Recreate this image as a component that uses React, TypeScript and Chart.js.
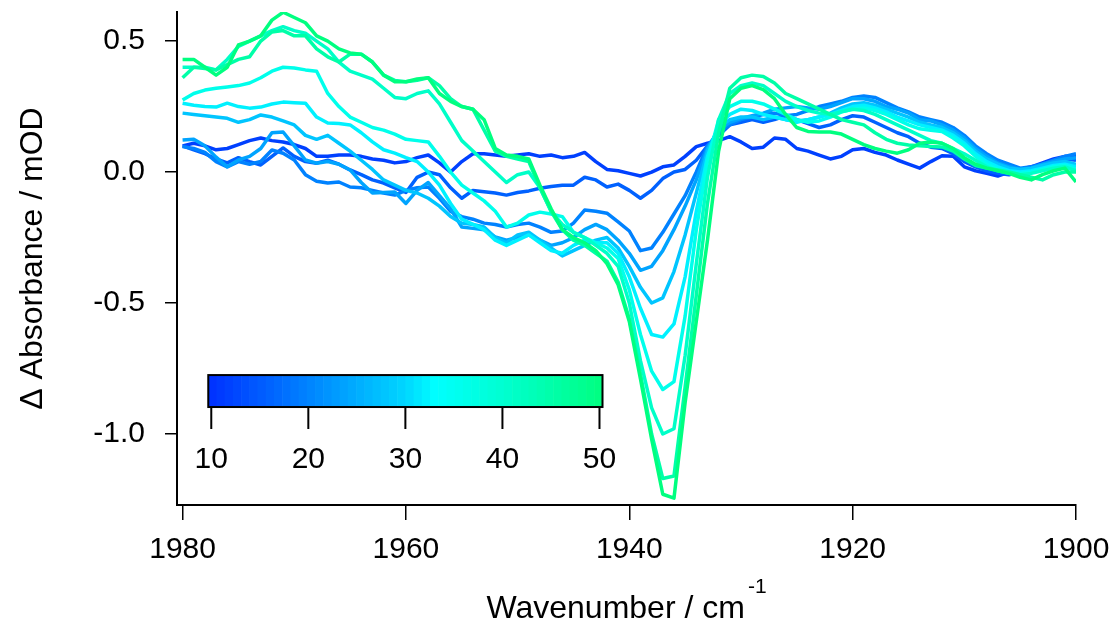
import { useEffect, useRef } from 'react';
import { Chart, registerables } from 'chart.js';

Chart.register(...registerables);

// ---------- data ----------
const wavenumbers = [
  1980, 1979, 1978, 1977, 1976, 1975, 1974, 1973, 1972, 1971,
  1970, 1969, 1968, 1967, 1966, 1965, 1964, 1963, 1962, 1961,
  1960, 1959, 1958, 1957, 1956, 1955, 1954, 1953, 1952, 1951,
  1950, 1949, 1948, 1947, 1946, 1945, 1944, 1943, 1942, 1941,
  1940, 1939, 1938, 1937, 1936, 1935, 1934, 1933, 1932, 1931,
  1930, 1929, 1928, 1927, 1926, 1925, 1924, 1923, 1922, 1921,
  1920, 1919, 1918, 1917, 1916, 1915, 1914, 1913, 1912, 1911,
  1910, 1909, 1908, 1907, 1906, 1905, 1904, 1903, 1902, 1901,
  1900,
];

// delay time of each spectrum (colour-bar units)
const delayTimes = [12, 16, 20, 24, 28, 32, 36, 41, 45, 50];

const s1 = [
  0.10, 0.11, 0.10, 0.085, 0.09, 0.105, 0.12, 0.13, 0.12, 0.115,
  0.105, 0.09, 0.06, 0.06, 0.065, 0.065, 0.06, 0.05, 0.045, 0.035,
  0.04, 0.055, 0.065, 0.035, 0.0, 0.04, 0.07, 0.07, 0.065, 0.06,
  0.065, 0.07, 0.06, 0.065, 0.055, 0.06, 0.075, 0.04, 0.01, 0.005,
  -0.005, -0.015, 0.0, 0.02, 0.027, 0.06, 0.097, 0.11, 0.12, 0.135,
  0.115, 0.09, 0.095, 0.13, 0.125, 0.09, 0.08, 0.065, 0.05, 0.06,
  0.085, 0.09, 0.075, 0.065, 0.046, 0.03, 0.015, 0.04, 0.062, 0.06,
  0.02, 0.005, -0.005, -0.015, 0.0, 0.01, 0.02, 0.035, 0.05, 0.06,
  0.06,
];
const s2 = [
  0.10, 0.085, 0.07, 0.05, 0.035, 0.055, 0.04, 0.027, 0.06, 0.092,
  0.06, 0.04, 0.034, 0.045, 0.03, 0.008, -0.01, -0.03, -0.042, -0.06,
  -0.078, -0.02, 0.0, -0.01, -0.06, -0.1, -0.07, -0.075, -0.08, -0.088,
  -0.078, -0.072, -0.062, -0.055, -0.05, -0.05, -0.02, -0.03, -0.057, -0.046,
  -0.07, -0.1, -0.07, -0.025, 0.0, 0.01, 0.045, 0.1, 0.14, 0.18,
  0.19, 0.2, 0.19, 0.2, 0.215, 0.2, 0.185, 0.17, 0.18, 0.2,
  0.215, 0.21, 0.19, 0.17, 0.15, 0.135, 0.11, 0.095, 0.09, 0.07,
  0.04, 0.02, 0.005, -0.005, -0.01, 0.0, 0.01, 0.025, 0.04, 0.05,
  0.045,
];
const s3 = [
  0.097, 0.09, 0.075, 0.04, 0.02, 0.04, 0.03, 0.04, 0.084, 0.072,
  0.046, -0.01, -0.035, -0.042, -0.038, -0.057, -0.06, -0.07, -0.08, -0.088,
  -0.07, -0.06, -0.057, -0.1, -0.15, -0.17, -0.18, -0.195, -0.2, -0.21,
  -0.2, -0.195, -0.21, -0.23, -0.225, -0.195, -0.145, -0.15, -0.157, -0.19,
  -0.225, -0.3, -0.29, -0.23, -0.16, -0.09, 0.0, 0.1, 0.15, 0.18,
  0.2, 0.21, 0.22, 0.225, 0.215, 0.22, 0.235, 0.25, 0.26, 0.27,
  0.285, 0.29, 0.285, 0.265, 0.245, 0.23, 0.21, 0.2, 0.19, 0.17,
  0.14, 0.1, 0.07, 0.045, 0.03, 0.015, 0.02, 0.03, 0.045, 0.06,
  0.07,
];
const s4 = [
  0.122, 0.125, 0.1, 0.057, 0.02, 0.046, 0.06, 0.09, 0.15, 0.153,
  0.1, 0.046, 0.034, 0.04, 0.03, 0.008, -0.04, -0.08, -0.078, -0.076,
  -0.12, -0.07, -0.04, -0.09, -0.14, -0.21, -0.215, -0.22, -0.248, -0.26,
  -0.25, -0.24, -0.26, -0.28, -0.27, -0.25, -0.22, -0.2, -0.22, -0.26,
  -0.31, -0.375, -0.36, -0.3, -0.22, -0.13, -0.03, 0.09, 0.16, 0.19,
  0.205, 0.215, 0.225, 0.24, 0.245, 0.25, 0.245, 0.24, 0.25, 0.265,
  0.28, 0.28, 0.27, 0.25, 0.24, 0.225, 0.2, 0.195, 0.18, 0.16,
  0.13, 0.09, 0.06, 0.035, 0.02, 0.01, 0.015, 0.03, 0.04, 0.05,
  0.055,
];
const s5 = [
  0.225, 0.22, 0.215, 0.21, 0.205, 0.19, 0.2, 0.218, 0.21, 0.195,
  0.18, 0.14, 0.125, 0.14, 0.11, 0.08, 0.045, 0.01, -0.03, -0.05,
  -0.07, -0.08, -0.1, -0.13, -0.17, -0.195, -0.2, -0.21, -0.25, -0.27,
  -0.24, -0.23, -0.26, -0.29, -0.32, -0.3, -0.28, -0.26, -0.25, -0.29,
  -0.36, -0.44, -0.5, -0.48, -0.38, -0.24, -0.08, 0.08, 0.17, 0.2,
  0.21, 0.21, 0.2, 0.21, 0.2, 0.195, 0.2, 0.21, 0.225, 0.245,
  0.26, 0.265, 0.255, 0.24, 0.225, 0.21, 0.19, 0.18, 0.17, 0.15,
  0.12, 0.08, 0.05, 0.03, 0.015, 0.01, 0.015, 0.025, 0.035, 0.04,
  0.03,
];
const s6 = [
  0.263, 0.255, 0.25, 0.248, 0.263, 0.25, 0.244, 0.248, 0.26, 0.267,
  0.265, 0.263, 0.21, 0.187, 0.185, 0.18, 0.15, 0.115, 0.085, 0.072,
  0.055, 0.04, 0.0, -0.05, -0.12, -0.18, -0.2, -0.22, -0.26, -0.28,
  -0.26, -0.24, -0.27, -0.3, -0.31, -0.28, -0.26, -0.27, -0.27, -0.31,
  -0.4, -0.52, -0.62, -0.63, -0.58, -0.4, -0.15, 0.06, 0.18, 0.22,
  0.24, 0.235, 0.22, 0.21, 0.2, 0.19, 0.2, 0.21, 0.22, 0.235,
  0.25, 0.255, 0.245, 0.23, 0.21, 0.195, 0.18, 0.17, 0.16, 0.14,
  0.11, 0.07, 0.04, 0.02, 0.005, 0.0, 0.005, 0.015, 0.025, 0.03,
  0.02,
];
const s7 = [
  0.275, 0.3, 0.313, 0.32, 0.325, 0.33, 0.34, 0.36, 0.385, 0.4,
  0.397, 0.39, 0.385, 0.3, 0.25, 0.21, 0.19, 0.17, 0.16, 0.145,
  0.125, 0.12, 0.115, 0.06, 0.0, -0.05, -0.08, -0.11, -0.15, -0.21,
  -0.195, -0.164, -0.153, -0.16, -0.17, -0.23, -0.25, -0.27, -0.29, -0.33,
  -0.45, -0.62, -0.76, -0.83, -0.8, -0.55, -0.22, 0.04, 0.2, 0.25,
  0.27, 0.27, 0.26, 0.24, 0.22, 0.2, 0.19, 0.195, 0.21, 0.23,
  0.24, 0.245, 0.235, 0.22, 0.2, 0.18, 0.165, 0.16, 0.155, 0.13,
  0.1, 0.06, 0.03, 0.01, 0.0, -0.005, 0.0, 0.01, 0.02, 0.025,
  0.01,
];
const s8 = [
  0.40, 0.40, 0.40, 0.39, 0.43, 0.48, 0.5, 0.52, 0.54, 0.555,
  0.54, 0.53, 0.5, 0.47, 0.42, 0.385, 0.37, 0.355, 0.32, 0.285,
  0.28, 0.3, 0.31, 0.26, 0.19, 0.12, 0.08, 0.04, 0.0, -0.04,
  -0.01, 0.0, -0.06, -0.15, -0.2, -0.23, -0.25, -0.28, -0.31, -0.36,
  -0.5, -0.72, -0.9, -1.0, -0.98, -0.7, -0.35, -0.02, 0.2, 0.3,
  0.33, 0.34, 0.33, 0.3, 0.27, 0.25, 0.235, 0.225, 0.22, 0.23,
  0.24, 0.235, 0.22, 0.2, 0.18, 0.16, 0.14, 0.12, 0.11, 0.09,
  0.07, 0.045, 0.02, 0.005, -0.005, -0.01, -0.005, 0.005, 0.015, 0.02,
  0.005,
];
const s9 = [
  0.36, 0.4, 0.395, 0.39, 0.41, 0.43, 0.44, 0.5, 0.535, 0.54,
  0.52, 0.52, 0.47, 0.44, 0.42, 0.45, 0.45, 0.42, 0.37, 0.35,
  0.345, 0.35, 0.36, 0.33, 0.28, 0.25, 0.24, 0.16, 0.08, 0.06,
  0.05, 0.04, -0.06, -0.15, -0.22, -0.26, -0.28, -0.31, -0.34, -0.42,
  -0.56, -0.77, -1.0, -1.17, -1.16, -0.82, -0.47, -0.12, 0.15, 0.32,
  0.36, 0.37, 0.365, 0.34, 0.3, 0.28, 0.26, 0.24, 0.22, 0.2,
  0.19, 0.18, 0.15, 0.125, 0.11, 0.103, 0.1, 0.098, 0.096, 0.08,
  0.05, 0.025, 0.015, 0.008, 0.0, -0.01, -0.02, -0.03, -0.01, 0.0,
  0.0,
];
const s10 = [
  0.43, 0.43, 0.4, 0.37, 0.4, 0.485, 0.5, 0.52, 0.58, 0.61,
  0.59, 0.57, 0.52, 0.5, 0.47, 0.455, 0.45, 0.42, 0.37, 0.345,
  0.345, 0.355, 0.36, 0.3, 0.27, 0.25, 0.24, 0.2, 0.09, 0.065,
  0.06, 0.05, -0.05, -0.14, -0.22, -0.25, -0.27, -0.3, -0.35, -0.43,
  -0.57, -0.79, -1.02, -1.23, -1.245, -0.88, -0.57, -0.26, 0.08, 0.28,
  0.32, 0.33, 0.315, 0.28, 0.22, 0.17, 0.155, 0.153, 0.153, 0.145,
  0.125, 0.105, 0.09, 0.08, 0.072, 0.085, 0.11, 0.115, 0.11, 0.09,
  0.055, 0.03, 0.015, 0.005, -0.005, -0.02, -0.03, -0.01, 0.005, 0.015,
  -0.038,
];
const spectra = [s1, s2, s3, s4, s5, s6, s7, s8, s9, s10];

const xTickValues = [1980, 1960, 1940, 1920, 1900];
const xTickLabels = ['1980', '1960', '1940', '1920', '1900'];
const yTickValues = [0.5, 0, -0.5, -1.0];
const yTickLabels = ['0.5', '0.0', '-0.5', '-1.0'];
const colorbarTicks = [10, 20, 30, 40, 50];
const colorbarLabels = ['10', '20', '30', '40', '50'];

const xTitle = 'Wavenumber / cm';
const xTitleSup = '-1';
const yTitle = '\u0394 Absorbance / mOD';

// ---------- style ----------
const FONT = "'Liberation Sans', Arial, sans-serif";
const TICK_SIZE = 30;
const TITLE_SIZE = 32;
const LINE_WIDTH = 3.5;
const cmapStops: [number, number[]][] = [
  [10, [0, 48, 255]],
  [20, [0, 130, 255]],
  [30, [0, 214, 255]],
  [33, [0, 255, 255]],
  [40, [0, 255, 208]],
  [50, [0, 255, 128]],
];
const CB_MIN = 10;
const CB_MAX = 50;
// colour bar box, in data coordinates (wavenumber, absorbance)
const cbBox = { wnLeft: 1977.7, wnRight: 1942.4, yTop: -0.775, yBottom: -0.897 };

function colorAt(t: number): string {
  if (t <= cmapStops[0][0]) return `rgb(${cmapStops[0][1].join(',')})`;
  for (let i = 1; i < cmapStops.length; i++) {
    const [t1, c1] = cmapStops[i];
    const [t0, c0] = cmapStops[i - 1];
    if (t <= t1) {
      const f = (t - t0) / (t1 - t0);
      const c = c0.map((v, k) => Math.round(v + f * (c1[k] - v)));
      return `rgb(${c.join(',')})`;
    }
  }
  return `rgb(${cmapStops[cmapStops.length - 1][1].join(',')})`;
}

const decorPlugin = {
  id: 'decor',
  afterDraw(chart: any) {
    const { ctx, chartArea, scales } = chart;
    const xs = scales.x;
    const ys = scales.y;
    ctx.save();
    ctx.fillStyle = '#000';
    // x title with superscript
    ctx.font = `${TITLE_SIZE}px ${FONT}`;
    const w1 = ctx.measureText(xTitle).width;
    ctx.font = `${Math.round(TITLE_SIZE * 0.65)}px ${FONT}`;
    const w2 = ctx.measureText(xTitleSup).width;
    const cx = (chartArea.left + chartArea.right) / 2;
    const start = cx - (w1 + w2 + 3) / 2;
    ctx.textAlign = 'left';
    ctx.textBaseline = 'alphabetic';
    ctx.font = `${TITLE_SIZE}px ${FONT}`;
    ctx.fillText(xTitle, start, 618);
    ctx.font = `${Math.round(TITLE_SIZE * 0.65)}px ${FONT}`;
    ctx.fillText(xTitleSup, start + w1 + 3, 593);
    // y title
    ctx.save();
    ctx.translate(42, (chartArea.top + chartArea.bottom) / 2);
    ctx.rotate(-Math.PI / 2);
    ctx.textAlign = 'center';
    ctx.font = `${TITLE_SIZE}px ${FONT}`;
    ctx.fillText(yTitle, 0, 0);
    ctx.restore();

    // colour bar
    const L = xs.getPixelForValue(cbBox.wnLeft);
    const R = xs.getPixelForValue(cbBox.wnRight);
    const T = ys.getPixelForValue(cbBox.yTop);
    const B = ys.getPixelForValue(cbBox.yBottom);
    const inset = 3;
    const nBands = 48;
    const bw = (R - L) / nBands;
    for (let i = 0; i < nBands; i++) {
      const t = CB_MIN + ((i + 0.5) / nBands) * (CB_MAX - CB_MIN);
      ctx.fillStyle = colorAt(t);
      ctx.fillRect(L + i * bw, T, bw + 0.6, B - T);
    }
    ctx.strokeStyle = '#000';
    ctx.lineWidth = 2;
    ctx.strokeRect(L, T, R - L, B - T);
    ctx.fillStyle = '#000';
    ctx.font = `${TICK_SIZE}px ${FONT}`;
    ctx.textAlign = 'center';
    ctx.textBaseline = 'alphabetic';
    colorbarTicks.forEach((t, i) => {
      const px = L + inset + ((t - CB_MIN) / (CB_MAX - CB_MIN)) * (R - L - 2 * inset);
      ctx.beginPath();
      ctx.moveTo(px, B);
      ctx.lineTo(px, B + 22);
      ctx.stroke();
      ctx.fillText(colorbarLabels[i], px, B + 61);
    });
    ctx.restore();
  },
};

export default function App() {
  const ref = useRef<HTMLCanvasElement | null>(null);
  useEffect(() => {
    if (!ref.current) return;
    const datasets = spectra.map((vals, i) => ({
      label: `t = ${delayTimes[i]}`,
      data: vals.map((v, j) => ({ x: wavenumbers[j], y: v })),
      borderColor: colorAt(delayTimes[i]),
      backgroundColor: colorAt(delayTimes[i]),
      borderWidth: LINE_WIDTH,
      pointRadius: 0,
      tension: 0,
      fill: false,
      order: spectra.length - i,
      borderJoinStyle: 'round' as const,
    }));
    const zeroPad = (s: any) => {
      s.paddingTop = 0;
      s.paddingBottom = 0;
      s.paddingLeft = 0;
      s.paddingRight = 0;
    };
    const chart = new Chart(ref.current, {
      type: 'line',
      data: { datasets },
      options: {
        animation: false,
        responsive: false,
        devicePixelRatio: 1,
        layout: { padding: { top: 12, right: 37, left: 0, bottom: 0 } },
        plugins: { legend: { display: false }, tooltip: { enabled: false } },
        scales: {
          x: {
            type: 'linear',
            reverse: true,
            min: 1900,
            max: 1980.5,
            afterBuildTicks: (s: any) => {
              s.ticks = xTickValues.map((v) => ({ value: v }));
            },
            afterFit: (s: any) => {
              s.height = 120;
              zeroPad(s);
            },
            ticks: {
              autoSkip: false,
              maxRotation: 0,
              color: '#000',
              padding: 12,
              font: { size: TICK_SIZE, family: FONT },
              callback: (v: any) => xTickLabels[xTickValues.indexOf(Number(v))] ?? '',
            },
            grid: { drawOnChartArea: false, drawTicks: true, tickLength: 15, color: '#000', lineWidth: 1.5 },
            border: { display: true, color: '#000', width: 2 },
          },
          y: {
            type: 'linear',
            min: -1.271,
            max: 0.611,
            afterBuildTicks: (s: any) => {
              s.ticks = yTickValues.map((v) => ({ value: v }));
            },
            afterFit: (s: any) => {
              s.width = 177;
              zeroPad(s);
            },
            ticks: {
              color: '#000',
              padding: 20,
              font: { size: TICK_SIZE, family: FONT },
              callback: (v: any) => {
                const idx = yTickValues.findIndex((t) => Math.abs(t - Number(v)) < 1e-9);
                return idx >= 0 ? yTickLabels[idx] : '';
              },
            },
            grid: { drawOnChartArea: false, drawTicks: true, tickLength: 12, color: '#000', lineWidth: 1.5 },
            border: { display: true, color: '#000', width: 2 },
          },
        },
      },
      plugins: [decorPlugin],
    });
    return () => chart.destroy();
  }, []);
  return (
    <div style={{ position: 'absolute', left: 0, top: 0, width: 1113, height: 625, background: '#fff' }}>
      <canvas ref={ref} width={1113} height={625} style={{ display: 'block' }} />
    </div>
  );
}
